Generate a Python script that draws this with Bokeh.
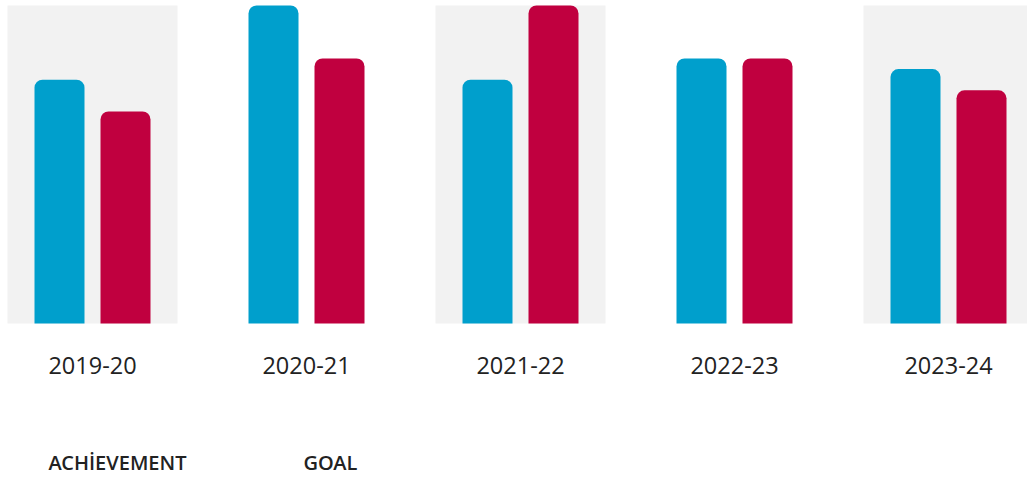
from bokeh.plotting import figure
from bokeh.models import ColumnDataSource, Range1d
from bokeh.core.properties import value
from bokeh.embed import file_html
from bokeh.resources import INLINE

# ---- data ----
years = ["2019-20", "2020-21", "2021-22", "2022-23", "2023-24"]
achievement = [23, 30, 23, 25, 24]
goal = [20, 25, 30, 25, 22]
series_names = ["ACHİEVEMENT", "GOAL"]
y_max = 30

BLUE = "#009fcc"
CRIMSON = "#c0003f"
BAND = "#f2f2f2"
TEXT = "#222222"

# ---- layout constants (pixels) ----
W, H = 1027, 479
CAT_PX = 214.0          # pixels per category
FIRST_CENTER_PX = 92.0  # center of first category from frame left
BAR_W_PX = 50.0
BAR_OFF_PX = 33.0
BAND_W_PX = 170.0
TOP_PX = 5.0            # pixel of y_max from frame top
ZERO_PX = 323.0         # pixel of value 0 from frame top

unit = 1.0 / CAT_PX
x_start = -FIRST_CENTER_PX * unit
x_end = x_start + W * unit
y_scale = (ZERO_PX - TOP_PX) / y_max          # px per unit
y_end = y_max + TOP_PX / y_scale
y_start = y_end - H / y_scale

idx = list(range(len(years)))

p = figure(width=W, height=H, output_backend="svg", toolbar_location=None,
           x_range=Range1d(x_start, x_end), y_range=Range1d(y_start, y_end),
           x_axis_location=None, y_axis_location=None,
           min_border=0, outline_line_color=None, tools="")
p.grid.visible = False
p.background_fill_color = "white"
p.border_fill_color = "white"

# alternating background bands
band_x = [i for i in idx if i % 2 == 0]
p.vbar(x=band_x, top=[y_max] * len(band_x), bottom=0, width=BAND_W_PX * unit,
       fill_color=BAND, line_color=None)

src = ColumnDataSource(dict(
    xa=[i - BAR_OFF_PX * unit for i in idx],
    xg=[i + BAR_OFF_PX * unit for i in idx],
    a=achievement, g=goal))

p.vbar(x="xa", top="a", bottom=0, width=BAR_W_PX * unit, source=src,
       fill_color=BLUE, line_color=None, border_radius=(8, 8, 0, 0))
p.vbar(x="xg", top="g", bottom=0, width=BAR_W_PX * unit, source=src,
       fill_color=CRIMSON, line_color=None, border_radius=(8, 8, 0, 0))

# category labels
p.text(x=idx, y=[0] * len(idx), text=years, y_offset=42,
       text_align="center", text_baseline="middle",
       text_font=value("Open Sans"), text_font_size="23.5px", text_color=TEXT)

# legend labels (no swatches)
p.text(x=[0, 0], y=[0, 0], text=series_names, x_offset=[-44, 211], y_offset=139,
       text_align="left", text_baseline="middle",
       text_font=value("Open Sans SemiBold"), text_font_size="20px",
       text_color=TEXT)

open("out.html", "w").write(file_html(p, INLINE))
